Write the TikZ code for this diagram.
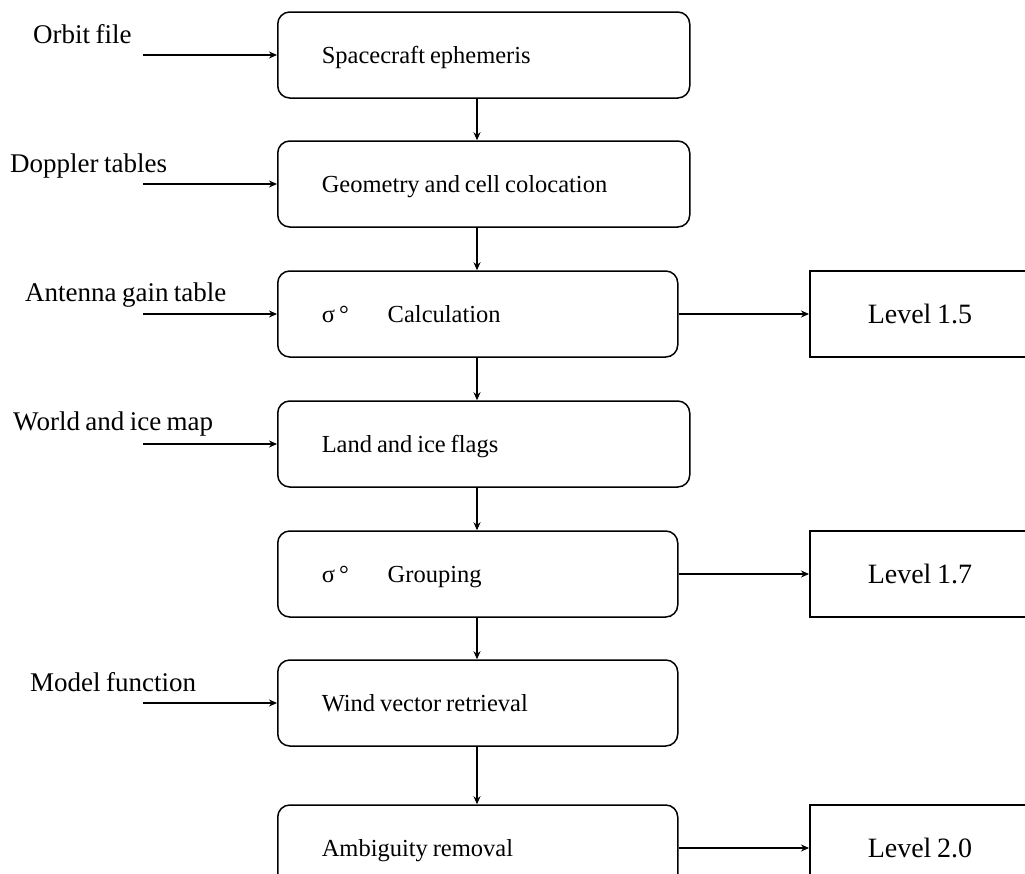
\documentclass[tikz,border=0pt]{standalone}
\usepackage{fontspec}
\setmainfont{Liberation Serif}[WordSpace=0.8]
\usetikzlibrary{arrows.meta}
\newcommand\wtxt[2]{\makebox[#1][l]{#2}}
\begin{document}
\begin{tikzpicture}[x=1pt,y=-1pt,
  proc/.style={draw, line width=1.5pt, rounded corners=12pt, minimum height=86pt,
    minimum width=#1, inner xsep=44pt, inner ysep=0pt, text height=17pt, text depth=0pt,
    anchor=west, font=\fontsize{24.5}{28}\selectfont},
  lvl/.style={draw, line width=1.5pt, minimum height=86pt, minimum width=260pt,
    inner xsep=58pt, inner ysep=0pt, text height=18pt, text depth=0pt, anchor=west,
    font=\fontsize{28}{30}\selectfont},
  inlabel/.style={anchor=base west, inner sep=0pt, font=\fontsize{27}{30}\selectfont},
  arr/.style={-{Stealth[length=8pt,width=7pt]}, line width=1.3pt}
]
\useasboundingbox (0,0) rectangle (1025,873);
\clip (0,0) rectangle (1025,873);

% process boxes
\node[proc=412pt] (b1) at (277,55) {\wtxt{324pt}{Spacecraft ephemeris}};
\node[proc=412pt] (b2) at (277,184) {\wtxt{324pt}{Geometry and cell colocation}};
\node[proc=400pt] (b3) at (277,314) {\wtxt{312pt}{\makebox[66pt][l]{σ\,°}Calculation}};
\node[proc=412pt] (b4) at (277,444) {\wtxt{324pt}{Land and ice flags}};
\node[proc=400pt] (b5) at (277,574) {\wtxt{312pt}{\makebox[66pt][l]{σ\,°}Grouping}};
\node[proc=400pt] (b6) at (277,703) {\wtxt{312pt}{Wind vector retrieval}};
\node[proc=400pt] (b7) at (277,848) {\wtxt{312pt}{Ambiguity removal}};

% level boxes
\node[lvl] (l1) at (809,314) {\wtxt{144pt}{Level 1.5}};
\node[lvl] (l2) at (809,574) {\wtxt{144pt}{Level 1.7}};
\node[lvl] (l3) at (809,848) {\wtxt{144pt}{Level 2.0}};

% input labels
\node[inlabel] (t1) at (33,43) {Orbit file};
\node[inlabel] (t2) at (10,172) {Doppler tables};
\node[inlabel] (t3) at (25,301) {Antenna gain table};
\node[inlabel] (t4) at (13,430) {World and ice map};
\node[inlabel] (t6) at (30,691) {Model function};

\coordinate (s1) at (143,55);
\coordinate (s2) at (143,184);
\coordinate (s3) at (143,314);
\coordinate (s4) at (143,444);
\coordinate (s6) at (143,703);
\coordinate (vx) at (477,0);

% input arrows
\draw[arr] (s1) -- (b1.west);
\draw[arr] (s2) -- (b2.west);
\draw[arr] (s3) -- (b3.west);
\draw[arr] (s4) -- (b4.west);
\draw[arr] (s6) -- (b6.west);

% vertical chain
\draw[arr] (b1.south -| vx) -- (b2.north -| vx);
\draw[arr] (b2.south -| vx) -- (b3.north -| vx);
\draw[arr] (b3.south -| vx) -- (b4.north -| vx);
\draw[arr] (b4.south -| vx) -- (b5.north -| vx);
\draw[arr] (b5.south -| vx) -- (b6.north -| vx);
\draw[arr] (b6.south -| vx) -- (b7.north -| vx);

% outputs
\draw[arr] (b3.east) -- (l1.west);
\draw[arr] (b5.east) -- (l2.west);
\draw[arr] (b7.east) -- (l3.west);
\end{tikzpicture}
\end{document}
